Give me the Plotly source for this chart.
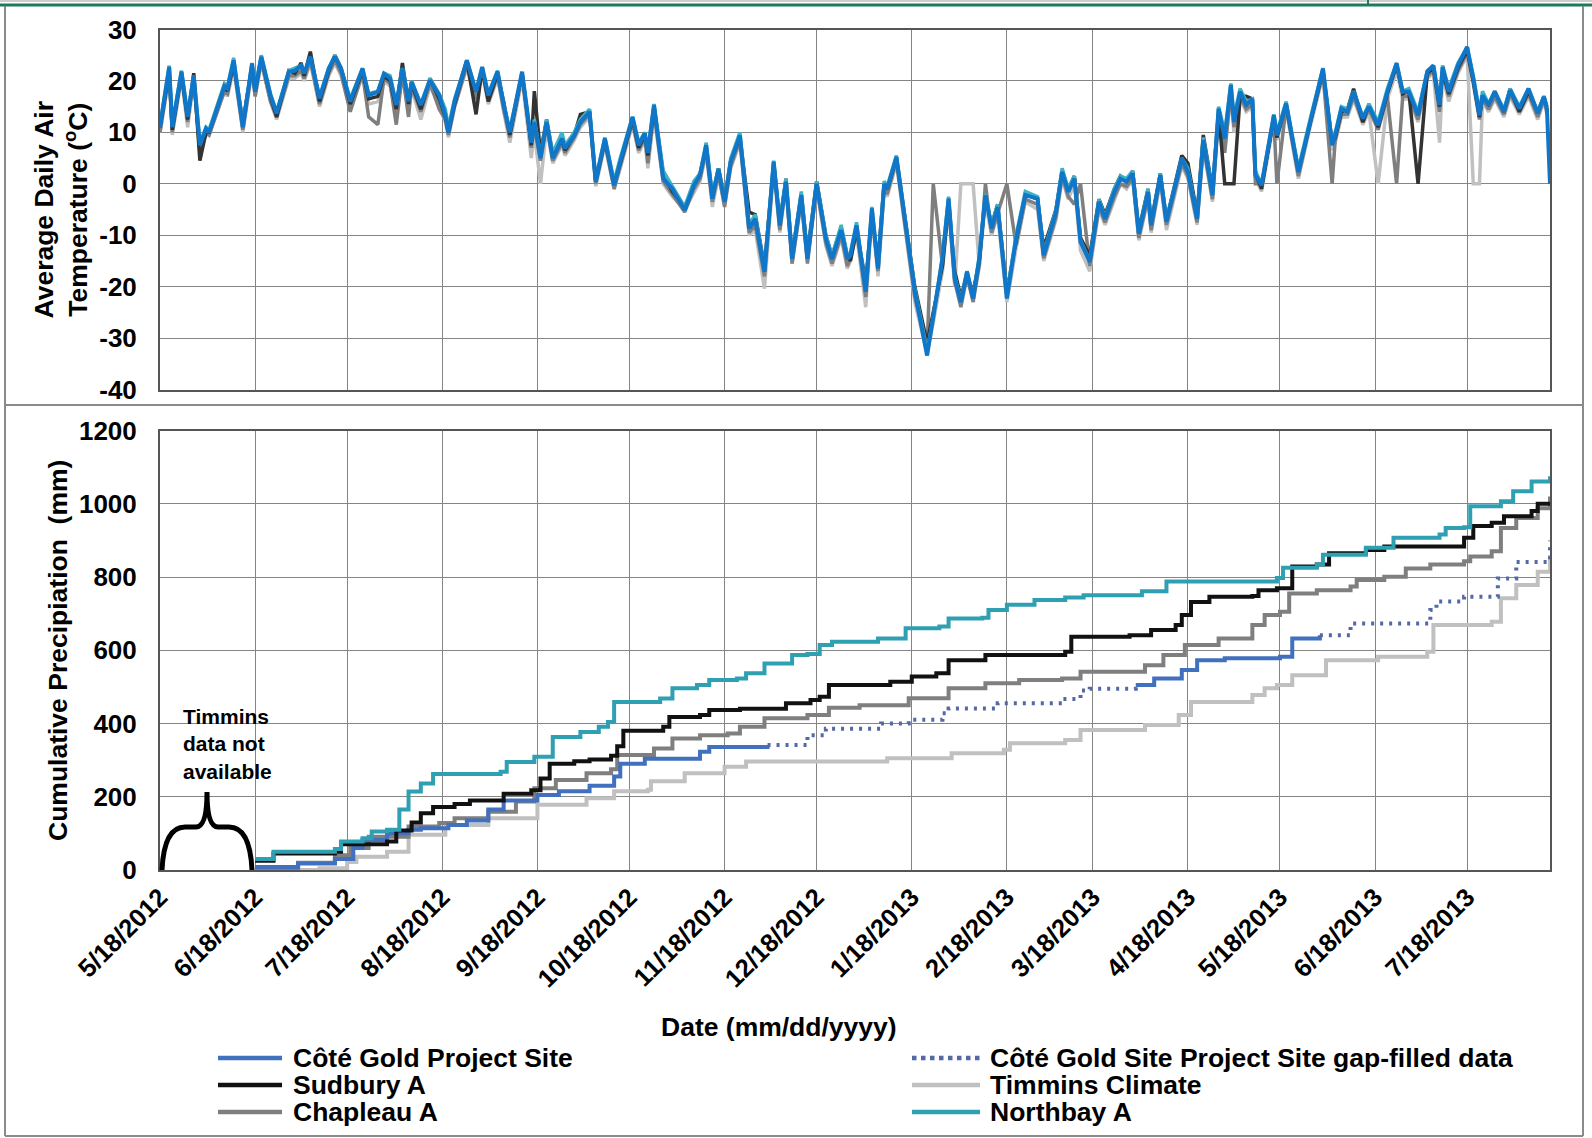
import pandas as pd
import plotly.graph_objects as go

START = pd.Timestamp("2012-05-18")
END = pd.Timestamp("2013-08-14")

TICK_LABELS = ["5/18/2012", "6/18/2012", "7/18/2012", "8/18/2012", "9/18/2012",
               "10/18/2012", "11/18/2012", "12/18/2012", "1/18/2013", "2/18/2013",
               "3/18/2013", "4/18/2013", "5/18/2013", "6/18/2013", "7/18/2013"]

# ---- average daily air temperature (days counted from 5/18/2012) ----
TEMP_DAYS = [0, 3, 4, 7, 9, 11, 13, 15, 16, 21, 22, 24, 27, 30, 31, 33, 36, 38, 42, 44, 46, 47, 49, 52, 55,
             57, 59, 62, 66, 68, 71, 73, 75, 77, 79, 81, 82, 85, 88, 91, 93, 94, 96, 100, 103, 105, 107, 110, 112,
             114, 118, 121, 122, 124, 126, 128, 131, 132, 135, 137, 140, 142, 145, 148, 150, 154, 156, 158, 159,
             161, 164, 167, 171, 174, 176, 178, 180, 182, 184, 186, 189, 192, 194, 197, 200, 202, 204, 206, 209,
             211, 214, 217, 219, 222, 224,
             225, 227, 230, 232, 234, 236, 237, 240, 243, 244, 246, 250, 252, 255, 257, 259, 261, 263, 265, 267,
             269, 271, 273, 276, 279, 282, 286, 288, 292, 294, 296, 298, 300, 303, 306, 308, 311, 313, 315, 317,
             319, 322, 323, 326, 328, 333, 335, 338, 340,
             343, 345, 347, 349, 350, 352, 354, 356, 357, 359, 363, 364, 367, 371, 375, 379, 382, 383, 385, 387,
             389, 392, 394, 397, 400, 403, 405, 407, 410, 413, 415, 417, 418, 420, 423, 426, 428, 430, 431, 433,
             435, 438, 440, 443, 446, 449, 451, 452, 453]

cote_temp = [11, 22.7, 11, 21.8, 13, 21, 7.5, 10.7, 10, 19, 18.5, 24, 11, 23.4, 17.9, 24.7, 17.2, 13.7, 21.8, 22,
             23, 21.5, 24.7, 16.6, 22.4, 24.7, 22.4, 16, 22.4, 17.2, 17.9, 21.4, 20.5, 15.3, 22.4, 16, 19.8, 15.3,
             20.1, 17.2, 13.3, 10, 16, 24, 17.9, 22.7, 17.2, 21.8, 15.3,
             10, 21.8, 8, 12, 5, 12, 5, 8.8, 6.9, 9.4, 12, 14, 0.4, 8.8, -0.3, 4.3, 13, 7.5, 9.8, 6,
             15.3, 1, -1, -5.1, -0.3, 1.7, 7.5, -2.9, 2.9, -3.5, 4.3, 9.4, -8.7, -6.8, -17.1, 4.3, -8.1, 0.4,
             -14.6, -2.2, -14.6, 0, -10.7, -14.6, -9, -14.6,
             -13.9, -8.1, -21, -4.8, -16.5, 0, -1, 5.2, -8.1, -12, -21, -33.4, -26.2, -14.6, -2.9, -18.4, -23,
             -17.1, -22.3, -14.6, -2.2, -8.7, -4.5, -22.3, -10.7, -2.2, -2.9, -13.9, -5.5, 2.3, -1.6, 1, -11.3,
             -15.2, -3.5, -6.8, -1.6, 1, 0.4, 2, -9.7, -1.6, -8.1, 1.7, -7.4, 4.9, 2.3, -6.8, 8.5,
             -2.2, 14.6, 8.8, 19.2, 12, 17.9, 15.3, 16.5, 1.7, -0.3, 13.3, 9.4, 15.6, 2.3, 12.7, 22.4, 7.5, 9.4,
             14.6, 14, 17.9, 12.7, 15, 11.4, 17.9, 23.4, 17.9, 17.9, 13.3, 21.8, 23, 15.3, 22.7, 17.9, 23, 26.6,
             20.5, 13.3, 17.2, 15.3, 17.9, 14, 18.2, 14.6, 18.5, 13.7, 16.9, 14.6, 0]

sudbury_temp = [11, 22, 10.5, 21.5, 12.5, 21.5, 4.5, 10, 10, 19, 18, 23.5, 12, 23, 18, 24.5, 17, 13, 22, 21.5,
                23.5, 21, 25.7, 16, 22, 25, 22.5, 15.5, 22, 16.5, 17, 21, 20, 14.5, 23.5, 15.5, 19.5, 14.5, 20.5,
                16.5, 13, 10, 15.5, 24, 13.5, 22.5, 16, 21.5, 16,
                9.5, 21.5, 7.5, 18, 6, 12.5, 5.5, 8.5, 6.5, 9.5, 13.5, 14, 0.5, 8.5, 0, 4, 12.5, 7, 9.5, 5.5,
                15, 2, -1.5, -4.5, 0, 2, 7, -2.5, 3, -3, 4.5, 9, -5.5, -6, -16, 4, -7.5, 1, -14, -2,
                -13.5, 0.5, -10, -14, -8.5, -14,
                -15, -9, -19, -6, -15, 0, -1, 5, -7.5, -11, -20, -31, -25, -16, -3.5, -17, -22, -18, -21, -15,
                -2.5, -8, -4, -21, -11, -2, -3, -12.5, -5, 2.5, -1, 1.5, -10.5, -14, -3, -6, -1, 1.5, 0.5, 2.5,
                -9, -1, -7.5, 2, -7, 5.5, 4, -6, 9.5,
                -1, 14, 0, 0, 0, 17, 17, 16.5, 2, -1, 13, 9, 15.5, 2.5, 12.5, 22, 8, 9, 14, 14.5,
                18.5, 12, 15.5, 11, 17.5, 23, 17.5, 18, 0, 21.5, 22.5, 15, 22, 17.5, 22.5, 26, 20, 13, 17, 15.5,
                18, 14, 18.5, 14, 18, 14, 17, 15, None]

chapleau_temp = [10, 21.5, 10, 21, 12, 20.5, 6, 10, 9.5, 18, 17.5, 23, 10.5, 22.5, 17, 24, 16, 13, 21, 21,
                 22, 20.5, 24, 15.5, 21.5, 24, 21.5, 14, 21.5, 13, 11.5, 20.5, 19.5, 11.5, 21.5, 13, 19, 14, 19.5,
                 14.5, 12.5, 9.5, 15, 23, 16.5, 22, 16, 21, 14.5,
                 9, 21, 7, 11, 4.5, 11.5, 4.5, 8, 6, 9, 11.5, 13.5, 0, 8, -1, 3.5, 12, 6.5, 9, 4,
                 14, 0.5, -2, -5.5, -1, 1, 6.5, -3.5, 2, -4.5, 3.5, 8.5, -9.5, -8, -18, 3.5, -9, 0, -15.5, -3,
                 -15.5, -0.5, -11.5, -15.5, -10, -16,
                 -14.5, -9, -22, -5.5, -17, -1, -2, 4.5, -9, -13, -22, -32, 0, -16, -4, -19, -24, -18, -23, -16,
                 0, -9.5, -5.5, 0, -12, -3, -4, -14.5, -6.5, 1.5, -2.5, -4, 0, -16, -4.5, -7.5, -2.5, 0, -0.5, 1,
                 -10.5, -2.5, -9, 1, -8, 4, 1.5, -7.5, 7.5,
                 -3, 13.5, 6, 18, 11, 17, 14.5, 15.5, 0, 0, 12.5, 0, 15, 1.5, 12, 21.5, 0, 8.5, 13.5, 13.5,
                 17, 12, 14.5, 10.5, 17, 0, 17, 17, 12.5, 21, 22, 14, 21.5, 17, 22, 25.5, 19.5, 12.5, 16.5, 14.5,
                 17, 13.5, 17.5, 14, 17.5, 13, 16.5, 14, None]

timmins_temp = [10, 21, 9.5, 20.5, 11, 20, 6.5, 9.5, 9.5, 18, 17, 22.5, 10, 22, 17, 23.5, 16, 12.5, 20.5, 20.5,
                21.5, 20, 23.5, 15, 21, 23.5, 21, 14.5, 21, 15.5, 16, 20, 19, 13.5, 21, 14, 18.5, 12.5, 19,
                15.5, 12, 9, 15, 22.5, 16, 21.5, 15.5, 20.5, 14,
                8, 20.5, 5, 10, 0, 11, 4, 7.5, 5.5, 8.5, 11, 13, -0.5, 7.5, -1, 3, 11.5, 6, 8.5, 3,
                13.5, 0, -2.5, -5, -1.5, 0.5, 6, -4.5, 1.5, -4, 3, 8, -10, -9, -20.4, 3, -9.5, -0.5, -15.5, -3.5,
                -15, -1, -12, -16, -10.5, -16.5,
                -15, -9.5, -24, -6, -18, -1.5, -2.5, 4, -9.5, -14, -23, -33, -27, -17, -4.5, -20, 0, 0, 0, -16,
                -3.5, -10, -6, -23, -12.5, -3.5, -5, -15, -7, 1, -3, 0, -13, -17, -5, -8, -3, 0, -1, 1,
                -11, -3, -9.5, 0.5, -9, 3.5, 1, -8, 7,
                -3.5, 13, 7, 17.5, 10, 16.5, 14, 15, 1, -1.5, 12, 8.5, 14.5, 1, 11.5, 21, 6.5, 8, 13, 13,
                16.5, 11.5, 14, 0, 16.5, 22, 16.5, 16.5, 12, 20.5, 21.5, 8, 21, 16, 21.5, 25, 0, 0, 16, 14,
                16.5, 13, 17, 13.5, 17, 12.5, 16, 13.5, None]

northbay_temp = [11.5, 23, 11.5, 22, 13.5, 21, 8, 11, 10.5, 19.5, 19, 24.5, 11.5, 23.5, 18.5, 25, 17.5, 14, 22,
                 22.5, 23, 21.5, 24.5, 17, 22.5, 25, 22.5, 16.5, 22.5, 17.5, 18, 21.5, 21, 15.5, 22.5, 16.5, 20,
                 15.5, 20.5, 17.5, 14.5, 11, 16.5, 24, 18, 22.5, 17.5, 22, 15.5,
                 10.5, 21.5, 8.5, 12.5, 5.5, 12.5, 6, 10, 7.5, 10, 12.5, 14.5, 1, 9, 0.5, 5, 13, 8, 10, 6.5,
                 15.5, 2.5, -0.5, -4.5, 0.5, 2, 8, -2, 3, -3, 5, 10, -8, -6, -16.5, 4.5, -7.5, 1, -14, -1.5,
                 -14, 0.5, -10, -14, -8, -14,
                 -13.5, -7.5, -20.5, -4.5, -16, 0.5, -0.5, 5.5, -7.5, -11.5, -20.5, -32.5, -26, -14, -2.5, -18,
                 -22.5, -17, -22, -14, -2, -8, -4, -21.5, -10, -1.5, -2.5, -13.5, -5, 3, -1, 1.5, -11, -15, -3,
                 -6.5, -1, 1.5, 1, 2.5, -9.5, -1, -8, 2, -7, 5, 3, -6.5, 9,
                 -1.5, 15, 10, 19.5, 13, 18.5, 16, 16.5, 2.5, 0, 13.5, 10, 16, 3, 13, 22.5, 8, 10, 15, 14.5,
                 18, 13, 15.5, 12, 18.5, 23.5, 18, 18.5, 14, 22, 23, 16, 23, 18.5, 23.5, 26.5, 21, 14, 18, 15.5,
                 18, 14.5, 18.5, 15, 18.5, 14, 17, 15, None]

# ---- cumulative precipitation (mm) ----
cote_p_days = [31, 45, 57, 63, 66, 74, 81, 85, 94, 100, 107, 112, 123, 130, 140, 148, 150, 158, 176, 179,
               198, 199, 318, 324, 333, 338, 347, 365, 369, 378]
cote_p = [8, 18, 30, 60, 82, 100, 110, 114, 123, 135, 165, 190, 205, 215, 230, 255, 290, 304, 323, 336,
          341, None, 505, 523, 546, 573, 578, 582, 632, 641]

gapfill_days = [198, 211, 217, 235, 244, 255, 257, 273, 294, 300, 303, 318, 319, 378, 388, 414, 416, 425,
                436, 442, 453]
gapfill_p = [341, 368, 386, 400, 410, 428, 441, 455, 467, 490, 495, 500, None, 641, 673, 710, 733, 746,
             796, 841, 900]

sudbury_p_days = [31, 37, 57, 59, 74, 77, 82, 85, 89, 96, 101, 112, 121, 124, 127, 135, 140, 147, 149, 151,
                  164, 166, 176, 179, 189, 204, 212, 215, 218, 238, 245, 253, 257, 269, 295, 297, 316, 323,
                  331, 333, 336, 342, 356, 358, 364, 369, 377, 381, 393, 399, 425, 428, 434, 438, 447, 449, 453]
sudbury_p = [25, 45, 50, 70, 78, 108, 130, 155, 172, 180, 190, 208, 218, 250, 290, 297, 302, 312, 338, 380,
             391, 418, 423, 437, 440, 455, 464, 473, 505, 514, 528, 537, 573, 587, 596, 637, 641, 655,
             669, 696, 732, 746, 748, 764, 769, 829, 834, 865, 874, 883, 907, 939, 948, 966, 980, 1000, 1003]

chapleau_p_days = [31, 45, 57, 62, 68, 81, 91, 96, 107, 116, 122, 129, 139, 147, 149, 161, 167, 176, 185, 189,
                   197, 211, 218, 228, 244, 257, 269, 280, 294, 300, 321, 327, 334, 345, 356, 360, 365, 368,
                   377, 388, 390, 399, 406, 414, 425, 427, 434, 437, 442, 449, 453]
chapleau_p = [5, 20, 40, 60, 91, 119, 128, 141, 159, 187, 223, 246, 264, 275, 314, 332, 359, 368, 373, 391,
              414, 423, 443, 450, 469, 496, 510, 519, 523, 541, 559, 587, 614, 632, 669, 696, 705, 755,
              764, 774, 792, 801, 823, 834, 843, 856, 870, 934, 961, 988, 1020]

timmins_p_days = [31, 52, 61, 64, 74, 81, 93, 107, 123, 139, 148, 159, 160, 171, 184, 191, 215, 237, 258, 275,
                  277, 295, 300, 321, 332, 336, 356, 360, 364, 369, 380, 397, 413, 415, 434, 437, 442, 449, 453]
timmins_p = [0, 5, 22, 36, 50, 96, 123, 141, 178, 196, 215, 219, 242, 264, 282, 296, 296, 305, 319, 328,
             346, 355, 382, 396, 423, 459, 478, 496, 505, 532, 573, 582, 596, 669, 678, 742, 778, 814, 860]

northbay_p_days = [31, 37, 57, 59, 66, 69, 74, 78, 81, 85, 89, 111, 113, 122, 128, 137, 143, 146, 148, 163,
                   167, 175, 179, 188, 191, 197, 206, 211, 215, 219, 234, 243, 254, 257, 268, 270, 276, 285,
                   295, 301, 320, 328, 364, 366, 377, 379, 393, 402, 417, 419, 425, 427, 437, 441, 447, 453]
northbay_p = [30, 50, 57, 78, 87, 105, 110, 165, 214, 236, 262, 268, 295, 309, 363, 377, 391, 404, 459, 468,
              496, 505, 519, 523, 537, 564, 587, 590, 614, 623, 632, 660, 665, 687, 689, 710, 724, 737,
              744, 750, 761, 788, 797, 825, 834, 861, 880, 907, 916, 934, 936, 993, 1007, 1034, 1061, 1075]

C_COTE_T = "#0f76c9"
C_COTE = "#4170be"
C_GAP = "#5468a6"
C_SUD = "#111111"
C_SUD_T = "#333333"
C_CHAP = "#7f7f7f"
C_TIM = "#c0c0c0"
C_NB = "#2f9fb2"
C_NB_T = "#3fb3c2"

W, H = 1592, 1138
FONT = "Arial, Liberation Sans, sans-serif"
BIG = 26.5


def to_dates(days):
    return [START + pd.Timedelta(days=d) for d in days]


def px(x):
    return x / W


def py(y):
    return 1 - y / H


temp_x = to_dates(TEMP_DAYS)
fig = go.Figure()

for vals, col, w in [(timmins_temp, C_TIM, 3.5), (chapleau_temp, C_CHAP, 3.5), (sudbury_temp, C_SUD_T, 3.5),
                     (northbay_temp, C_NB_T, 3.5), (cote_temp, C_COTE_T, 4)]:
    fig.add_trace(go.Scatter(x=temp_x, y=vals, mode="lines", line=dict(color=col, width=w),
                             xaxis="x", yaxis="y", showlegend=False))

for days, vals, col, dash in [(timmins_p_days, timmins_p, C_TIM, "solid"),
                              (chapleau_p_days, chapleau_p, C_CHAP, "solid"),
                              (cote_p_days, cote_p, C_COTE, "solid"),
                              (gapfill_days, gapfill_p, C_GAP, "3px,6px"),
                              (sudbury_p_days, sudbury_p, C_SUD, "solid"),
                              (northbay_p_days, northbay_p, C_NB, "solid")]:
    fig.add_trace(go.Scatter(x=to_dates(days), y=vals, mode="lines", line_shape="hv",
                             line=dict(color=col, width=4, dash=dash),
                             xaxis="x2", yaxis="y2", showlegend=False))

tick_dates = pd.to_datetime(TICK_LABELS, format="%m/%d/%Y")
grid = "#858585"
frame = "#555555"
xcommon = dict(type="date", range=[START, END], tickvals=tick_dates, showgrid=True, gridcolor=grid,
               gridwidth=1, showline=True, linecolor=frame, linewidth=2, mirror=True, ticks="",
               domain=[px(160), px(1550)], zeroline=False, automargin=False)
ycommon = dict(showgrid=True, gridcolor=grid, showline=True, linecolor=frame, linewidth=2, mirror=True,
               zeroline=False, ticks="", ticklabelstandoff=16, automargin=False,
               tickfont=dict(size=26, color="black", family=FONT))
fig.update_layout(
    xaxis=dict(xcommon, anchor="y", showticklabels=False),
    xaxis2=dict(xcommon, anchor="y2", ticktext=[f"<b>{t}</b>" for t in TICK_LABELS], tickangle=-45,
                tickfont=dict(size=25.5, color="black", family=FONT)),
    yaxis=dict(ycommon, domain=[py(389.5), py(29.5)], range=[-40, 30], tickvals=list(range(-40, 31, 10)),
               ticktext=[f"<b>{v}</b>" for v in range(-40, 31, 10)]),
    yaxis2=dict(ycommon, domain=[py(870), py(430.5)], range=[0, 1200], tickvals=list(range(0, 1201, 200)),
                ticktext=[f"<b>{v}</b>" for v in range(0, 1201, 200)]),
    width=W, height=H, autosize=False, margin=dict(l=0, r=0, t=0, b=0),
    paper_bgcolor="white", plot_bgcolor="white", showlegend=False,
    font=dict(family=FONT, color="black"),
)

RIGHT = 1583
shapes = [
    dict(type="line", x0=0, x1=1, y0=py(1), y1=py(1), line=dict(color="#9a9a9a", width=1)),
    dict(type="line", x0=0, x1=1, y0=py(5), y1=py(5), line=dict(color="#1f7a5c", width=3)),
    dict(type="line", x0=px(1368), x1=px(1368), y0=py(0), y1=py(5), line=dict(color="#1f7a5c", width=2)),
    dict(type="line", x0=px(5), x1=px(5), y0=py(6), y1=py(1136), line=dict(color="#8a8a8a", width=2)),
    dict(type="line", x0=px(RIGHT), x1=px(RIGHT), y0=py(6), y1=py(1136), line=dict(color="#8a8a8a", width=2)),
    dict(type="line", x0=px(5), x1=px(RIGHT), y0=py(405), y1=py(405), line=dict(color="#8a8a8a", width=2)),
    dict(type="line", x0=px(5), x1=px(RIGHT), y0=py(1136), y1=py(1136), line=dict(color="#8a8a8a", width=2)),
]
brace = (f"M {px(162)},{py(870)} Q {px(164)},{py(827)} {px(185)},{py(827)} L {px(196)},{py(827)} "
         f"Q {px(207)},{py(827)} {px(207)},{py(792)} Q {px(207)},{py(827)} {px(218)},{py(827)} "
         f"L {px(229)},{py(827)} Q {px(250)},{py(827)} {px(252)},{py(870)}")
shapes.append(dict(type="path", path=brace, xref="paper", yref="paper", line=dict(color="black", width=5)))

annotations = [
    dict(text="<b>Average Daily Air<br>Temperature (<sup>o</sup>C)</b>", x=px(61), y=py(209.5),
         textangle=-90, font=dict(size=BIG)),
    dict(text="<b>Cumulative Precipiation  (mm)</b>", x=px(58), y=py(651), textangle=-90,
         font=dict(size=BIG)),
    dict(text="<b>Date (mm/dd/yyyy)</b>", x=px(779), y=py(1027), font=dict(size=BIG)),
    dict(text="<b>Timmins<br>data not<br>available</b>", x=px(181), y=py(744), xanchor="left",
         align="left", font=dict(size=21)),
]

legend_items = [
    ("Côté Gold Project Site", C_COTE, "solid", 218, 282, 291, 1058),
    ("Sudbury A", C_SUD, "solid", 218, 282, 291, 1085),
    ("Chapleau A", C_CHAP, "solid", 218, 282, 291, 1112),
    ("Côté Gold Site Project Site gap-filled data", C_GAP, "dot", 912, 980, 988, 1058),
    ("Timmins Climate", C_TIM, "solid", 912, 980, 988, 1085),
    ("Northbay A", C_NB, "solid", 912, 980, 988, 1112),
]
for name, col, dash, x0, x1, xt, yy in legend_items:
    shapes.append(dict(type="line", x0=px(x0), x1=px(x1), y0=py(yy), y1=py(yy),
                       line=dict(color=col, width=4.5, dash=dash)))
    annotations.append(dict(text=f"<b>{name}</b>", x=px(xt), y=py(yy), xanchor="left",
                            font=dict(size=BIG)))

for a in annotations:
    a.update(xref="paper", yref="paper", showarrow=False)
    a.setdefault("xanchor", "center")
    a.setdefault("yanchor", "middle")
for s in shapes:
    s.setdefault("xref", "paper")
    s.setdefault("yref", "paper")

fig.update_layout(shapes=shapes, annotations=annotations)
# the page's default 8px body margin would shift the whole figure; drop it
fig.write_html("out.html", config={"displayModeBar": False},
               post_script="document.body.style.margin='0';")
